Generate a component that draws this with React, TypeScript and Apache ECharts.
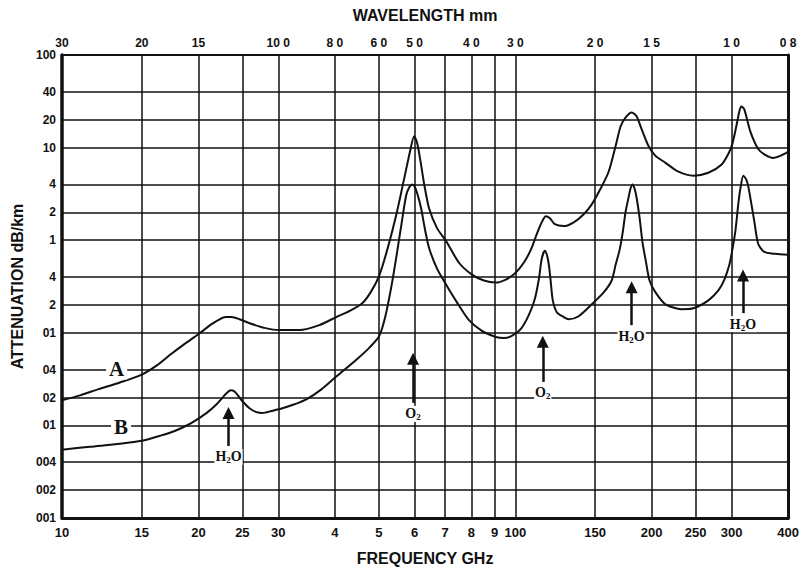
import React, { useEffect, useRef } from 'react';
import * as echarts from 'echarts';

// Bottom axis: frequency (GHz)
const freqTicks = [10, 15, 20, 25, 30, 40, 50, 60, 70, 80, 90, 100, 150, 200, 250, 300, 400];
const freqLabels = ['10', '15', '20', '25', '30', '4', '5', '6', '7', '8', '9', '100', '150', '200', '250', '300', '400'];
// Top axis: wavelength (mm), placed at frequency grid lines
const waveTicks = [10, 15, 20, 30, 40, 50, 60, 80, 100, 150, 200, 300, 400];
const waveLabels = ['30', '20', '15', '10 0', '8 0', '6 0', '5 0', '4 0', '3 0', '2 0', '1 5', '1 0', '0 8'];
// Left axis: attenuation (dB/km)
const attTicks = [0.001, 0.002, 0.004, 0.01, 0.02, 0.04, 0.1, 0.2, 0.4, 1, 2, 4, 10, 20, 40, 100];
const attLabels = ['001', '002', '004', '01', '02', '04', '01', '2', '4', '1', '2', '4', '10', '20', '40', '100'];

// Curve A
const freqA = [10, 10.96, 12.0, 13.42, 15.0, 16.19, 17.29, 18.65, 20.02, 21.38, 22.27, 22.96, 23.66, 24.65, 25.93, 27.98, 30.18, 33.41, 36.97, 40.29, 43.04, 45.96, 48.1, 50.1, 52.18, 54.61, 56.87, 58.62, 59.82, 60.74, 61.67, 62.93, 64.54, 67.21, 70.35, 75.13, 80.25, 85.27, 90.64, 95.35, 99.8, 104.4, 108.2, 111.6, 114.4, 116.8, 119.2, 122.2, 127.9, 134.6, 141.6, 147.5, 154.3, 160.7, 166.5, 170.8, 175.2, 180.6, 185.2, 190.0, 196.8, 203.9, 214.5, 229.1, 247.2, 266.7, 284.9, 295.1, 301.2, 307.4, 312.1, 315.3, 320.1, 330.0, 343.6, 356.1, 370.8, 384.2, 400];
const attA = [0.0187, 0.0211, 0.0245, 0.0291, 0.0354, 0.0445, 0.0575, 0.0759, 0.0971, 0.124, 0.140, 0.148, 0.148, 0.140, 0.127, 0.113, 0.107, 0.107, 0.121, 0.148, 0.171, 0.208, 0.280, 0.415, 0.786, 1.86, 4.62, 9.20, 13.3, 11.2, 7.55, 4.08, 2.21, 1.35, 0.981, 0.571, 0.425, 0.367, 0.349, 0.376, 0.436, 0.571, 0.786, 1.17, 1.56, 1.81, 1.73, 1.49, 1.42, 1.56, 1.91, 2.44, 3.61, 5.49, 10.4, 17.0, 21.2, 24.0, 21.8, 15.8, 10.4, 8.14, 6.85, 5.49, 4.97, 5.35, 6.52, 8.54, 10.9, 17.0, 24.6, 27.8, 25.9, 15.0, 9.66, 8.34, 7.74, 8.14, 8.97];

// Curve B
const freqB = [10, 11.52, 13.42, 15.0, 16.43, 17.73, 18.94, 19.92, 20.96, 21.93, 22.73, 23.31, 23.66, 24.15, 24.9, 25.93, 26.86, 27.69, 28.98, 30.64, 32.57, 34.61, 37.35, 40.29, 44.6, 47.62, 50.1, 51.65, 53.25, 54.61, 56.01, 57.44, 58.33, 59.22, 60.13, 61.05, 61.98, 63.25, 64.54, 67.21, 70.35, 74.37, 79.05, 84.41, 90.64, 94.39, 98.29, 102.9, 107.1, 110.4, 112.7, 114.4, 116.2, 117.4, 118.6, 119.8, 121.0, 123.5, 127.9, 131.2, 138.0, 147.5, 156.7, 163.2, 166.5, 169.9, 172.5, 175.2, 177.8, 179.6, 181.5, 183.3, 185.2, 188.1, 190.9, 193.9, 197.8, 203.9, 214.5, 232.6, 247.2, 266.7, 280.6, 289.3, 296.7, 301.2, 305.9, 310.6, 313.8, 318.5, 323.4, 326.7, 331.7, 336.8, 343.6, 354.3, 374.5, 400];
const attB = [0.00546, 0.00588, 0.00633, 0.00681, 0.0077, 0.00871, 0.0101, 0.0117, 0.0139, 0.0169, 0.0206, 0.0233, 0.0239, 0.0227, 0.0187, 0.0153, 0.0139, 0.0136, 0.0143, 0.0153, 0.0169, 0.0191, 0.0245, 0.0337, 0.0512, 0.0688, 0.0924, 0.148, 0.309, 0.645, 1.42, 3.04, 3.70, 3.99, 3.70, 2.97, 2.21, 1.29, 0.825, 0.493, 0.332, 0.213, 0.137, 0.105, 0.0902, 0.088, 0.0924, 0.11, 0.155, 0.23, 0.376, 0.63, 0.767, 0.695, 0.543, 0.349, 0.224, 0.167, 0.148, 0.14, 0.151, 0.203, 0.273, 0.367, 0.543, 0.786, 1.19, 2.05, 2.89, 3.61, 3.99, 3.61, 2.89, 1.73, 0.934, 0.614, 0.367, 0.273, 0.203, 0.18, 0.184, 0.224, 0.287, 0.376, 0.543, 0.786, 1.25, 2.5, 3.61, 4.97, 4.51, 3.79, 2.5, 1.6, 0.911, 0.748, 0.712, 0.695];

// Absorption-line arrows
const arrowFreqs = [23.3, 59.5, 115, 180.6, 318];
const arrowTails = [0.006, 0.0175, 0.0295, 0.121, 0.163];
const arrowTips = [0.0136, 0.0525, 0.08, 0.31, 0.415];
const arrowLabels = ['H2O', 'O2', 'O2', 'H2O', 'H2O'];

// Curve name labels
const curveNames = ['A', 'B'];
const curveNameFreqs = [13.2, 13.5];
const curveNameAtts = [0.0406, 0.0095];

const INK = '#111';
const SANS = 'Liberation Sans, Arial, sans-serif';
const SERIF = 'Liberation Serif, Times New Roman, serif';

const lookup = (ticks: number[], labels: string[]) => (v: number) => {
  let best = -1;
  let bd = Infinity;
  ticks.forEach((t, i) => {
    const d = Math.abs(Math.log10(v) - Math.log10(t));
    if (d < bd) { bd = d; best = i; }
  });
  return bd < 0.005 ? labels[best] : '';
};

export default function App() {
  const ref = useRef<HTMLDivElement>(null);
  useEffect(() => {
    if (!ref.current) return;
    const chart = echarts.init(ref.current, null, { renderer: 'svg' });
    const tickLabelStyle = { color: INK, fontFamily: SANS, fontWeight: 'bold' as const };
    const nameStyle = { color: INK, fontFamily: SANS, fontWeight: 'bold' as const, fontSize: 16 };
    const rich = {
      t: { fontFamily: SERIF, fontWeight: 'bold', fontSize: 14, color: INK, lineHeight: 16 },
      s: { fontFamily: SERIF, fontWeight: 'bold', fontSize: 9, color: INK, lineHeight: 16, verticalAlign: 'bottom' },
    };
    chart.setOption({
      animation: false,
      backgroundColor: '#fff',
      grid: { left: 62, right: 13, top: 55, bottom: 48, containLabel: false },
      xAxis: [
        {
          type: 'log', logBase: 10, min: 10, max: 400, position: 'bottom',
          name: 'FREQUENCY GHz', nameLocation: 'middle', nameGap: 32, nameTextStyle: nameStyle,
          axisLine: { show: true, lineStyle: { color: INK, width: 3 } },
          axisTick: { show: false, customValues: freqTicks },
          axisLabel: { ...tickLabelStyle, fontSize: 13, margin: 8, customValues: freqTicks, formatter: lookup(freqTicks, freqLabels) },
          splitLine: { show: true, lineStyle: { color: INK, width: 1.5 } },
          minorTick: { show: false }, minorSplitLine: { show: false },
        },
        {
          type: 'log', logBase: 10, min: 10, max: 400, position: 'top',
          name: 'WAVELENGTH mm', nameLocation: 'middle', nameGap: 32, nameTextStyle: nameStyle,
          axisLine: { show: true, lineStyle: { color: INK, width: 2 } },
          axisTick: { show: false, customValues: waveTicks },
          axisLabel: { ...tickLabelStyle, fontSize: 12, margin: 6, customValues: waveTicks, formatter: lookup(waveTicks, waveLabels) },
          splitLine: { show: false },
        },
      ],
      yAxis: [
        {
          type: 'log', logBase: 10, min: 0.001, max: 100, position: 'left',
          name: 'ATTENUATION dB/km', nameLocation: 'middle', nameGap: 35, nameTextStyle: nameStyle,
          axisLine: { show: true, lineStyle: { color: INK, width: 3.5 } },
          axisTick: { show: false, customValues: attTicks },
          axisLabel: { ...tickLabelStyle, fontSize: 12, margin: 6, customValues: attTicks, formatter: lookup(attTicks, attLabels) },
          splitLine: { show: true, lineStyle: { color: INK, width: 1.5 } },
        },
        {
          type: 'log', logBase: 10, min: 0.001, max: 100, position: 'right',
          axisLine: { show: true, lineStyle: { color: INK, width: 3 } },
          axisTick: { show: false }, axisLabel: { show: false }, splitLine: { show: false },
        },
      ],
      series: [
        {
          type: 'line', name: 'A', xAxisIndex: 0, yAxisIndex: 0,
          data: freqA.map((f, i) => [f, attA[i]]),
          showSymbol: false, smooth: 0.25, silent: true, z: 3,
          lineStyle: { color: INK, width: 2 }, itemStyle: { color: INK },
          markPoint: {
            silent: true, symbol: 'circle', symbolSize: 1,
            itemStyle: { color: 'rgba(0,0,0,0)' },
            label: {
              show: true, position: 'inside', formatter: '{b}',
              fontFamily: SERIF, fontSize: 21, fontWeight: 'bold', color: INK,
              backgroundColor: '#fff', padding: [0, 3],
            },
            data: curveNames.map((n, i) => ({ name: n, coord: [curveNameFreqs[i], curveNameAtts[i]] })),
          },
        },
        {
          type: 'line', name: 'B', xAxisIndex: 0, yAxisIndex: 0,
          data: freqB.map((f, i) => [f, attB[i]]),
          showSymbol: false, smooth: 0.25, silent: true, z: 3,
          lineStyle: { color: INK, width: 2 }, itemStyle: { color: INK },
          markLine: {
            silent: true, symbol: ['none', 'triangle'], symbolSize: 12,
            lineStyle: { color: INK, width: 2.5, type: 'solid' },
            itemStyle: { color: INK },
            label: {
              show: true, position: 'start', distance: 3,
              formatter: (p: any) => (p.name === 'H2O' ? '{t|H}{s|2}{t|O}' : '{t|O}{s|2}'),
              rich, backgroundColor: '#fff', padding: [0, 1],
            },
            data: arrowFreqs.map((f, i) => [
              { coord: [f, arrowTails[i]], name: arrowLabels[i] },
              { coord: [f, arrowTips[i]] },
            ]),
          },
        },
      ],
    });
    return () => chart.dispose();
  }, []);
  return (
    <div
      ref={ref}
      style={{ position: 'fixed', left: 0, top: 0, width: 802, height: 571, background: '#fff' }}
    />
  );
}
